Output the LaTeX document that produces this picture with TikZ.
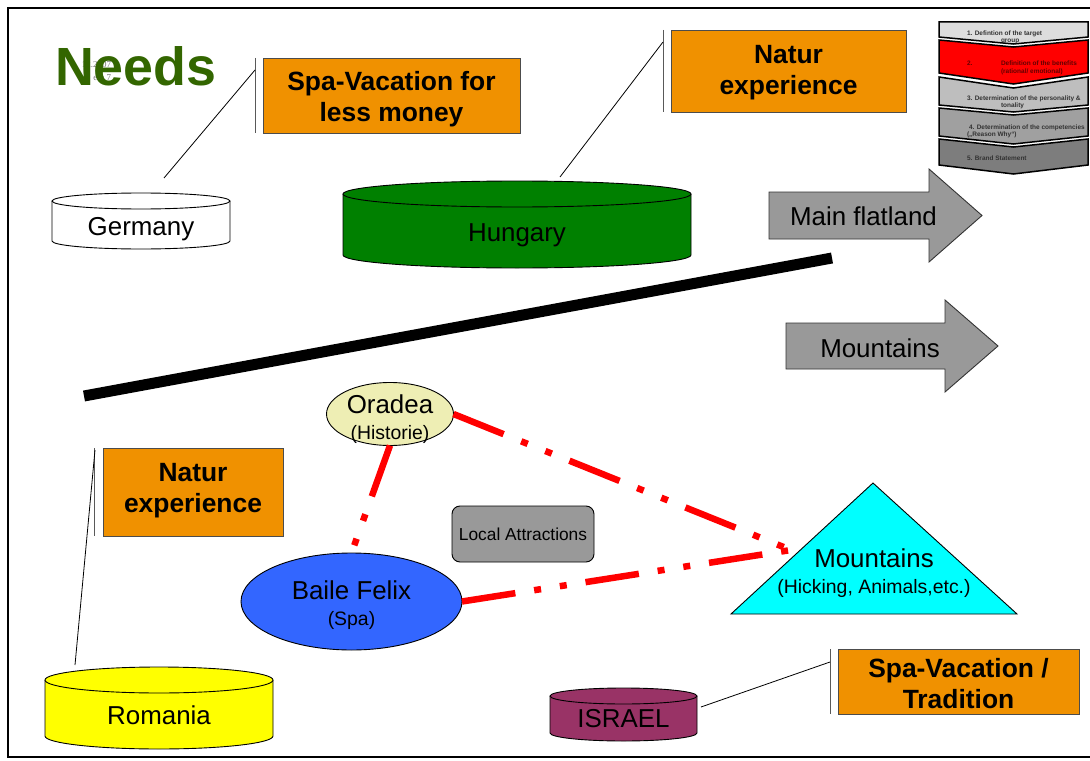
\documentclass[tikz,border=0pt]{standalone}
\usepackage{fontspec}
\setmainfont{Liberation Sans}
\newfontfamily\stampfont{Liberation Serif}
\usetikzlibrary{shapes.geometric}

\definecolor{calloutorange}{RGB}{240,145,0}
\definecolor{needsgreen}{RGB}{51,102,0}
\definecolor{hungarygreen}{RGB}{0,128,0}
\definecolor{israelplum}{RGB}{153,51,102}
\definecolor{romaniayellow}{RGB}{255,255,0}
\definecolor{mountaincyan}{RGB}{0,255,255}
\definecolor{oradeafill}{RGB}{238,238,180}
\definecolor{bailefill}{RGB}{51,102,255}
\definecolor{routered}{RGB}{255,0,0}
\definecolor{arrowgray}{RGB}{153,153,153}
\definecolor{chevA}{RGB}{221,221,221}
\definecolor{chevB}{RGB}{255,0,0}
\definecolor{chevC}{RGB}{190,190,190}
\definecolor{chevD}{RGB}{160,160,160}
\definecolor{chevE}{RGB}{125,125,125}
\definecolor{chevtextred}{RGB}{100,0,0}

\tikzset{
  outline/.style={draw=black, line width=0.9bp},
  callbox/.style={draw=black!70, line width=0.8bp, fill=calloutorange},
  callfont/.style={font=\bfseries\fontsize{26.5}{31}\selectfont, align=center},
  calloutbar/.style={draw=black!65, line width=1bp},
  leader/.style={draw=black, line width=0.8bp},
  routeline/.style={draw=routered, line width=6.5bp,
    dash pattern=on 54bp off 19bp on 7bp off 19bp on 7bp off 19bp},
  biglabel/.style={font=\fontsize{26}{30}\selectfont},
  twoline/.style={align=center, font=\fontsize{26}{26}\selectfont},
  blockarrow/.style={draw=black!80, line width=0.9bp, fill=arrowgray},
  chevshape/.style={draw=black, line width=1.5bp},
  chevtext/.style={font=\bfseries\fontsize{6.5}{7}\selectfont, anchor=base west, text=black!80},
}

% drum: name, centre x, top rim y, bottom rim y, half width, rim half height, fill, label, label offset
\newcommand\drum[9]{%
  \fill[#7] (#2-#5,#3) -- (#2-#5,#4) arc[start angle=180,end angle=360,x radius=#5bp,y radius=#6bp] -- (#2+#5,#3) -- cycle;
  \draw[outline] (#2-#5,#3) -- (#2-#5,#4) arc[start angle=180,end angle=360,x radius=#5bp,y radius=#6bp] -- (#2+#5,#3);
  \filldraw[outline, fill=#7] (#2,#3) ellipse[x radius=#5bp, y radius=#6bp];
  \node[biglabel] (#1) at (#2,{(#3+#4)/2+#6/2+#9}) {#8};
}

% chevron step: top y, top notch depth, bottom y, bottom point depth, fill
\newcommand\chevron[5]{%
  \filldraw[chevshape, fill=#5] (939,#1) -- (1013.5,#1+#2) -- (1088,#1) -- (1088,#3) -- (1013.5,#3+#4) -- (939,#3) -- cycle;
}

\begin{document}
\begin{tikzpicture}[x=1bp,y=-1bp, every node/.style={inner sep=0pt, outer sep=0pt}]
\useasboundingbox (0,0) rectangle (1090,761);
\fill[white] (0,0) rectangle (1090,761);

% slide frame
\draw[line width=2bp] (1090,8) -- (8,8) -- (8,757) -- (1090,757);

% title with the faint footer stamp underneath
\node[anchor=base east, font=\stampfont\fontsize{9}{10}\selectfont, text=black!55] (stampdate) at (111,68) {12.2007};
\node[anchor=base east, font=\stampfont\fontsize{9}{10}\selectfont, text=black!55] (stamppage) at (111,81) {ein 7};
\node[anchor=base west, font=\bfseries\fontsize{54}{60}\selectfont, text=needsgreen] (needs) at (55,86) {Needs};

% brand process steps
\chevron{22}{0}{37}{7}{chevA}
\chevron{40}{7}{73}{11}{chevB}
\chevron{77}{11}{105}{7}{chevC}
\chevron{108}{7}{136}{8}{chevD}
\chevron{139}{8}{165}{9}{chevE}
\node[chevtext] (stepAa) at (967,36) {1. Defintion of the target};
\node[chevtext] (stepAb) at (1001,43) {group};
\node[chevtext, text=chevtextred] (stepBa) at (967,66) {2.};
\node[chevtext, text=chevtextred] (stepBb) at (1001,66) {Definition of the benefits};
\node[chevtext, text=chevtextred] (stepBc) at (1001,74) {(rational/ emotional)};
\node[chevtext] (stepCa) at (967,101) {3. Determination of the personality \&};
\node[chevtext] (stepCb) at (1001,108) {tonality};
\node[chevtext] (stepDa) at (969,129) {4. Determination of the competencies};
\node[chevtext] (stepDb) at (967,136) {(„Reason Why“)};
\node[chevtext] (stepE) at (967,160) {5. Brand Statement};

% dividing bar
\coordinate (barL) at (84,396);
\coordinate (barR) at (832,258);
\draw[line width=11bp] (barL) -- (barR);

% countries
\drum{germany}{141}{201}{241}{89}{8}{white}{Germany}{4}
\drum{hungary}{517}{194}{255}{174}{13}{hungarygreen}{Hungary}{4}
\drum{romania}{159}{680}{736}{114}{13}{romaniayellow}{Romania}{1}
\drum{israel}{623.5}{696}{733}{73.5}{8}{israelplum}{ISRAEL}{0}

% block arrows
\filldraw[blockarrow] (769,192) -- (929,192) -- (929,169) -- (982,215.5) -- (929,262) -- (929,239) -- (769,239) -- cycle;
\node[biglabel] (flatland) at (863.5,216) {Main flatland};
\filldraw[blockarrow] (786,323) -- (945,323) -- (945,300) -- (998,346) -- (945,392) -- (945,369) -- (786,369) -- cycle;
\node[biglabel] (mountarrow) at (880,348) {Mountains};

% needs callouts
\node[callbox, minimum width=257bp, minimum height=75bp] (needGer) at (391.5,95.5) {};
\node[callfont] (needGerText) at (391.5,99.5) {Spa-Vacation for\\less money};
\node[callbox, minimum width=235bp, minimum height=82bp] (needHun) at (788.5,71) {};
\node[callfont] (needHunText) at (788.5,72.5) {Natur\\experience};
\node[callbox, minimum width=180bp, minimum height=88bp] (needRom) at (193,492) {};
\node[callfont] (needRomText) at (193,490.5) {Natur\\experience};
\node[callbox, minimum width=241bp, minimum height=65bp] (needIsr) at (958.5,681.5) {};
\node[callfont] (needIsrText) at (958.5,683.5) {Spa-Vacation /\\Tradition};
\foreach \c in {needGer,needHun,needRom,needIsr}
  \draw[calloutbar] ([xshift=-8bp]\c.north west) -- ([xshift=-8bp]\c.south west);

\coordinate (gerLead) at (164,178);
\coordinate (hunLead) at (560,177);
\coordinate (romLead) at (75,665);
\coordinate (isrLead) at (701,707);
\draw[leader] (gerLead) -- ([xshift=-8bp,yshift=-12bp]needGer.north west);
\draw[leader] (hunLead) -- ([xshift=-8bp,yshift=-12bp]needHun.north west);
\draw[leader] (romLead) -- ([xshift=-8bp,yshift=-2bp]needRom.north west);
\draw[leader] (isrLead) -- ([xshift=-8bp,yshift=-13bp]needIsr.north west);

% local attractions network
\filldraw[outline, fill=mountaincyan] (731,614) -- (873,483) -- (1017,614) -- cycle;
\coordinate (mtnjoin) at (791,550);
\node[twoline] (mountains) at (874,573) {Mountains\\{\fontsize{19.5}{22}\selectfont(Hicking, Animals,etc.)}};

\node[ellipse, outline, fill=oradeafill, minimum width=127bp, minimum height=63bp] (oradea) at (390,414) {};
\node[twoline] (oradeaText) at (390,419.5) {Oradea\\{\fontsize{19.5}{22}\selectfont(Historie)}};
\node[ellipse, outline, fill=bailefill, minimum width=221bp, minimum height=97bp] (baile) at (351.5,601.5) {};
\node[twoline] (baileText) at (351.5,605.5) {Baile Felix\\{\fontsize{19.5}{22}\selectfont(Spa)}};
\node[outline, fill=arrowgray, rounded corners=8bp, minimum width=142bp, minimum height=56bp, font=\fontsize{17.4}{20}\selectfont] (local) at (523,534) {Local Attractions};

\draw[routeline] (oradea.east) -- (mtnjoin);
\draw[routeline] (oradea.south) -- (baile.north);
\draw[routeline] (baile.east) -- (mtnjoin);
\end{tikzpicture}
\end{document}
